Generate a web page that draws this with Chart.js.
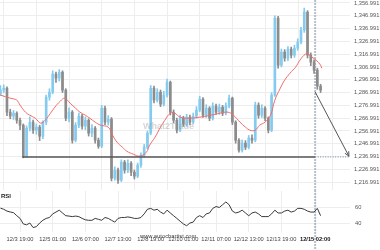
<!DOCTYPE html>
<html>
<head>
<meta charset="utf-8">
<script src="https://cdn.jsdelivr.net/npm/chart.js@4.4.0/dist/chart.umd.min.js"></script>
<style>
html, body { margin: 0; padding: 0; background: #fff; }
#wrap { position: relative; width: 380px; height: 250px; overflow: hidden; font-family: "Liberation Sans", Arial, sans-serif; }
#main { position: absolute; left: 0; top: 0; }
#rsi { position: absolute; left: 0; top: 190px; }
.lbl { position: absolute; white-space: nowrap; }
</style>
</head>
<body>
<div id="wrap">
  <canvas id="main" width="380" height="190"></canvas>
  <canvas id="rsi" width="380" height="60"></canvas>
  <div class="lbl" style="left:143px;top:121px;font-size:9px;font-weight:bold;color:rgba(150,150,150,0.4)">What2Trade</div>
  <div class="lbl" style="left:1px;top:193px;font-size:6px;font-weight:bold;color:#222">RSI</div>
  <div class="lbl" style="left:140px;top:233px;font-size:5.8px;color:#444">www.autochartist.com</div>
</div>
<script>
// x axis is in hours counted from 12/3 19:00
var tickHours = [0, 30, 60, 90, 120, 150, 180, 210, 240, 271];
var tickLabels = ['12/3 19:00', '12/5 01:00', '12/6 07:00', '12/7 13:00', '12/8 19:00',
                  '12/10 01:00', '12/11 07:00', '12/12 13:00', '12/13 19:00', '12/15 02:00'];
var priceTicks = [1216.991, 1226.991, 1236.991, 1246.991, 1256.991, 1266.991, 1276.991,
                  1286.991, 1296.991, 1306.991, 1316.991, 1326.991, 1336.991, 1346.991, 1356.991];
var rsiTicks = [40, 60];

// 3-hour candles starting at hour -18
var firstHour = -18, stepHours = 3;
var firstOpen = 1286.0;
var closes = [
  1288.9, 1290.4, 1271.7, 1268.6, 1270.9, 1265.4, 1261.5, 1237.3, 1259.2, 1263.9,
  1257.6, 1260.0, 1252.9, 1263.9, 1283.4, 1287.3, 1301.4, 1298.3, 1302.9, 1288.9,
  1267.0, 1271.7, 1249.8, 1261.5, 1268.6, 1260.8, 1265.4, 1255.3, 1259.2, 1249.8,
  1245.1, 1274.8, 1263.9, 1266.2, 1220.1, 1226.4, 1218.6, 1232.6, 1226.4, 1231.8,
  1224.8, 1221.7, 1230.3, 1238.1, 1244.3, 1255.3, 1290.4, 1281.1, 1287.3, 1277.9,
  1285.0, 1295.1, 1271.7, 1265.4, 1257.6, 1267.0, 1262.3, 1267.8, 1263.9, 1268.6,
  1273.3, 1281.8, 1269.3, 1274.8, 1267.0, 1276.4, 1271.7, 1275.6, 1270.9, 1276.4,
  1282.6, 1263.9, 1249.8, 1242.0, 1247.5, 1244.3, 1251.4, 1249.8, 1277.2, 1269.3,
  1274.8, 1267.0, 1257.6, 1285.0, 1345.1, 1308.4, 1318.6, 1313.9, 1320.9, 1316.2,
  1321.7, 1326.4, 1335.8, 1349.8, 1316.2, 1310.8, 1304.5, 1292.0, 1288.9
];
var highs = [
  1292.5, 1293.0, 1291.5, 1274.0, 1273.0, 1272.0, 1267.0, 1262.5, 1261.0, 1268.0,
  1265.5, 1262.5, 1261.5, 1265.0, 1285.0, 1290.0, 1304.0, 1303.0, 1305.0, 1304.0,
  1290.0, 1275.0, 1273.0, 1263.5, 1271.0, 1270.0, 1268.0, 1266.5, 1262.0, 1260.5,
  1251.5, 1277.0, 1276.5, 1269.0, 1267.5, 1229.0, 1228.0, 1234.5, 1234.0, 1234.5,
  1233.0, 1226.5, 1232.0, 1240.0, 1246.5, 1257.0, 1292.5, 1292.0, 1290.0, 1289.0,
  1288.0, 1297.5, 1296.0, 1273.5, 1267.0, 1269.5, 1268.5, 1270.0, 1269.5, 1271.0,
  1276.0, 1284.0, 1283.0, 1277.5, 1276.0, 1279.0, 1278.0, 1278.0, 1277.0, 1279.0,
  1285.0, 1283.5, 1265.0, 1251.0, 1250.0, 1249.5, 1253.5, 1254.0, 1279.5, 1279.0,
  1277.5, 1276.0, 1268.0, 1287.0, 1347.0, 1346.5, 1321.0, 1320.5, 1323.0, 1322.5,
  1324.0, 1329.0, 1338.0, 1353.0, 1351.0, 1318.0, 1312.5, 1306.0, 1293.5
];
var lows = [
  1284.5, 1287.0, 1269.0, 1266.5, 1266.0, 1263.0, 1258.0, 1236.0, 1236.5, 1257.0,
  1255.0, 1254.5, 1249.5, 1251.0, 1262.0, 1281.0, 1286.0, 1295.0, 1296.0, 1287.0,
  1265.0, 1264.0, 1247.5, 1248.5, 1259.5, 1258.5, 1258.0, 1253.0, 1252.5, 1247.5,
  1243.5, 1244.0, 1262.0, 1261.5, 1218.0, 1218.5, 1216.0, 1217.5, 1224.0, 1224.5,
  1222.0, 1219.5, 1220.5, 1228.5, 1236.5, 1243.0, 1254.0, 1279.0, 1279.5, 1276.0,
  1276.5, 1283.5, 1269.5, 1263.5, 1255.5, 1256.5, 1260.5, 1260.5, 1262.0, 1262.5,
  1267.0, 1272.0, 1267.5, 1267.5, 1265.0, 1265.5, 1270.0, 1270.0, 1269.0, 1269.5,
  1275.0, 1262.0, 1247.5, 1240.5, 1240.5, 1242.5, 1243.0, 1247.5, 1248.5, 1267.0,
  1267.5, 1265.0, 1255.5, 1256.5, 1284.0, 1306.0, 1307.0, 1311.5, 1312.0, 1314.0,
  1314.5, 1320.0, 1325.0, 1334.0, 1314.0, 1308.0, 1302.0, 1289.5, 1287.0
];
var rsiValues = [
  59.2, 57.8, 55.6, 54.5, 53.7, 50.0, 46.7, 40.0, 38.9, 41.1,
  35.6, 36.7, 41.1, 44.5, 46.7, 47.8, 52.2, 54.4, 56.7, 53.3,
  50.0, 49.5, 48.9, 49.5, 48.9, 46.7, 45.0, 44.4, 44.4, 46.7,
  45.6, 44.4, 47.8, 46.7, 44.4, 42.2, 46.7, 47.8, 47.8, 48.5,
  47.8, 46.7, 46.7, 47.8, 52.2, 57.8, 58.9, 56.7, 57.8, 54.4,
  52.2, 56.7, 53.3, 50.0, 46.7, 43.3, 40.0, 37.8, 41.1, 42.2,
  47.8, 50.0, 47.8, 52.2, 53.3, 58.9, 61.1, 60.0, 63.3, 66.7,
  63.3, 55.6, 53.3, 54.4, 56.7, 53.3, 50.0, 53.3, 54.4, 52.2,
  48.9, 48.9, 48.9, 52.2, 56.7, 53.3, 53.3, 55.6, 56.7, 54.4,
  55.6, 58.9, 58.9, 57.8, 55.6, 54.4, 54.4, 58.9, 50.0
];
var maHours = [-18, -9, -3, 0, 5, 9, 14, 19, 23, 28, 32, 37, 41, 46, 51, 55, 60, 64, 69, 74,
               81, 85, 89, 94, 98, 104, 110, 116, 119, 124, 129, 133, 138, 142, 147, 156, 165,
               175, 184, 191, 196, 202, 207, 211, 216, 220, 225, 230, 234, 239, 243, 248, 253,
               257, 262, 265, 268, 272, 276, 277];
var maValues = [1285.0, 1282.6, 1281.1, 1277.2, 1271.7, 1269.3, 1267.0, 1263.1, 1265.4, 1270.9,
                1275.6, 1280.3, 1282.6, 1278.7, 1274.8, 1271.7, 1269.3, 1267.0, 1263.9, 1261.5,
                1260.0, 1253.7, 1248.3, 1244.3, 1241.2, 1238.9, 1237.3, 1240.4, 1245.9, 1252.2,
                1260.0, 1265.4, 1270.9, 1270.9, 1267.8, 1267.0, 1267.8, 1269.3, 1270.9, 1271.7,
                1269.3, 1263.9, 1260.0, 1257.6, 1257.6, 1261.5, 1263.9, 1269.3, 1281.1, 1290.4,
                1296.7, 1302.2, 1306.8, 1312.3, 1317.0, 1317.0, 1314.7, 1312.3, 1308.4, 1306.0];

var supportLevel = 1236.7, supportStart = 2, nowHour = 271;
var arrowFrom = [271, 1287.5], arrowTo = [302, 1237.3];
var xMin = -18.4, xMax = 303;

Chart.defaults.font.family = '"Liberation Sans", Arial, sans-serif';

var candleHours = closes.map(function (c, i) { return firstHour + i * stepHours; });
var candles = closes.map(function (c, i) {
  var o = i === 0 ? firstOpen : closes[i - 1];
  return { x: candleHours[i], y: [o, c] };
});
var wicks = candleHours.map(function (h, i) { return { x: h, y: [lows[i], highs[i]] }; });
var candleColors = candles.map(function (d) { return d.y[1] >= d.y[0] ? '#84cbef' : '#8c8c8c'; });

// keep the plot area flush with the canvas edges
function noPad(s) { s.paddingTop = 0; s.paddingBottom = 0; s.paddingLeft = 0; s.paddingRight = 0; }
function yFit(s) { s.width = 30; noPad(s); }

function nowLine(chart) {
  var ctx = chart.ctx, x = chart.scales.x.getPixelForValue(nowHour);
  ctx.save();
  ctx.strokeStyle = 'rgba(150,165,180,0.7)';
  ctx.lineWidth = 2;
  ctx.setLineDash([2, 1]);
  ctx.beginPath();
  ctx.moveTo(x, 0);
  ctx.lineTo(x, chart.height);
  ctx.stroke();
  ctx.restore();
}

var mainOverlay = {
  id: 'mainOverlay',
  beforeDatasetsDraw: function (chart) { nowLine(chart); },
  afterDatasetsDraw: function (chart) {
    var ctx = chart.ctx, xs = chart.scales.x, ys = chart.scales.y;
    var y = ys.getPixelForValue(supportLevel);
    var x0 = xs.getPixelForValue(supportStart), x1 = xs.getPixelForValue(nowHour);
    ctx.save();
    ctx.strokeStyle = '#555';
    ctx.lineWidth = 1.6;
    ctx.beginPath(); ctx.moveTo(x0, y); ctx.lineTo(x1, y); ctx.stroke();
    ctx.strokeStyle = '#8a9aaa';
    ctx.lineWidth = 1.2;
    ctx.setLineDash([1, 1.5]);
    ctx.beginPath(); ctx.moveTo(x1, y); ctx.lineTo(chart.chartArea.right, y); ctx.stroke();
    ctx.setLineDash([]);
    // projection arrow
    var ax = xs.getPixelForValue(arrowFrom[0]), ay = ys.getPixelForValue(arrowFrom[1]);
    var bx = xs.getPixelForValue(arrowTo[0]), by = ys.getPixelForValue(arrowTo[1]);
    ctx.strokeStyle = '#555';
    ctx.lineWidth = 1;
    ctx.beginPath(); ctx.moveTo(ax, ay); ctx.lineTo(bx, by); ctx.stroke();
    var ang = Math.atan2(by - ay, bx - ax), len = 5;
    ctx.beginPath();
    ctx.moveTo(bx - len * Math.cos(ang - 0.45), by - len * Math.sin(ang - 0.45));
    ctx.lineTo(bx, by);
    ctx.lineTo(bx - len * Math.cos(ang + 0.45), by - len * Math.sin(ang + 0.45));
    ctx.stroke();
    ctx.restore();
  }
};

var gridColor = '#ededed';

new Chart(document.getElementById('main'), {
  type: 'bar',
  data: {
    datasets: [{
      type: 'line',
      data: maHours.map(function (h, i) { return { x: h, y: maValues[i] }; }),
      borderColor: '#f26a6a',
      borderWidth: 1,
      pointRadius: 0,
      tension: 0.4,
      order: 0
    }, {
      type: 'bar',
      data: candles,
      backgroundColor: candleColors,
      barThickness: 2,
      minBarLength: 1,
      grouped: false,
      order: 1
    }, {
      type: 'bar',
      data: wicks,
      backgroundColor: candleColors,
      barThickness: 1,
      grouped: false,
      order: 2
    }]
  },
  options: {
    responsive: false,
    animation: false,
    events: [],
    layout: { padding: 0 },
    plugins: { legend: { display: false }, tooltip: { enabled: false } },
    scales: {
      x: {
        type: 'linear', min: xMin, max: xMax, offset: false,
        grid: { color: gridColor, drawTicks: false },
        border: { display: false },
        ticks: { display: false },
        afterFit: noPad,
        afterBuildTicks: function (s) { s.ticks = tickHours.map(function (v) { return { value: v }; }); }
      },
      y: {
        position: 'right', min: 1210.9, max: 1359.3,
        afterFit: yFit,
        grid: { color: gridColor, drawTicks: false },
        border: { display: false },
        ticks: {
          padding: 4, color: '#555', font: { size: 5.7 },
          callback: function (v) {
            return Number(v).toLocaleString('en-US', { minimumFractionDigits: 3, maximumFractionDigits: 3 });
          }
        },
        afterBuildTicks: function (s) { s.ticks = priceTicks.map(function (v) { return { value: v }; }); }
      }
    }
  },
  plugins: [mainOverlay]
});

new Chart(document.getElementById('rsi'), {
  type: 'line',
  data: {
    datasets: [{
      data: candleHours.map(function (h, i) { return { x: h, y: rsiValues[i] }; }),
      borderColor: '#3a3a3a',
      borderWidth: 1,
      pointRadius: 0,
      tension: 0
    }]
  },
  options: {
    responsive: false,
    animation: false,
    events: [],
    layout: { padding: { top: 1, bottom: 3 } },
    plugins: { legend: { display: false }, tooltip: { enabled: false } },
    scales: {
      x: {
        type: 'linear', min: xMin, max: xMax, offset: false,
        grid: { color: gridColor, drawTicks: false },
        border: { display: false },
        afterFit: noPad,
        ticks: {
          padding: 4, autoSkip: false, maxRotation: 0,
          color: function (c) { return c.index === tickLabels.length - 1 ? '#111' : '#444'; },
          font: function (c) { return c.index === tickLabels.length - 1 ? { size: 5.7, weight: 'bold' } : { size: 5.7 }; },
          callback: function (v, i) { return tickLabels[i]; }
        },
        afterBuildTicks: function (s) { s.ticks = tickHours.map(function (v) { return { value: v }; }); }
      },
      y: {
        position: 'right', min: 30, max: 80,
        afterFit: yFit,
        grid: { color: gridColor, drawTicks: false },
        border: { display: false },
        ticks: { padding: 5, color: '#555', font: { size: 5.7 } },
        afterBuildTicks: function (s) { s.ticks = rsiTicks.map(function (v) { return { value: v }; }); }
      }
    }
  },
  plugins: [{ id: 'rsiNow', beforeDatasetsDraw: nowLine }]
});
</script>
</body>
</html>
